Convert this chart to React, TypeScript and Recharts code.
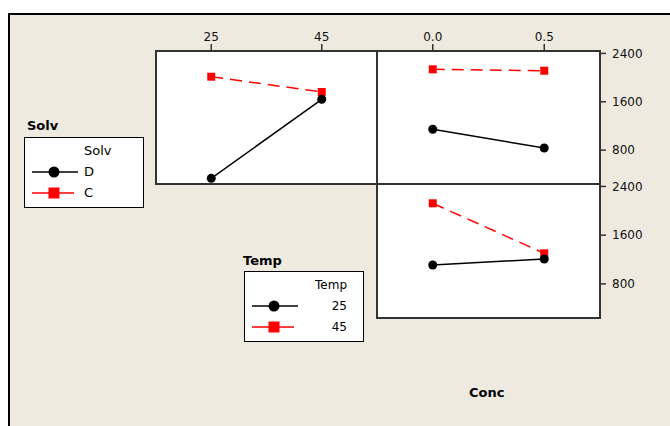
import React from "react";
import { LineChart, Line, XAxis, YAxis } from "recharts";

// factor levels
const TEMP_LEVELS = [25, 45];
const CONC_LEVELS = [0.0, 0.5];

// Solv lines over Temp (top-left panel)
const SOLV_D_BY_TEMP = [334, 1641];
const SOLV_C_BY_TEMP = [2015, 1762];

// Solv lines over Conc (top-right panel)
const SOLV_D_BY_CONC = [1145, 836];
const SOLV_C_BY_CONC = [2137, 2114];

// Temp lines over Conc (bottom-right panel)
const TEMP_25_BY_CONC = [1110, 1208];
const TEMP_45_BY_CONC = [2123, 1302];

const Y_TICKS = [800, 1600, 2400];
const Y_DOMAIN: [number, number] = [240, 2440];
const TEMP_DOMAIN: [number, number] = [15, 55];
const CONC_DOMAIN: [number, number] = [-0.25, 0.75];

const RED = "#ff0000";
const FONT = "'DejaVu Sans', Verdana, sans-serif";

const tempData = TEMP_LEVELS.map((x, i) => ({
  x,
  black: SOLV_D_BY_TEMP[i],
  red: SOLV_C_BY_TEMP[i],
}));
const concSolvData = CONC_LEVELS.map((x, i) => ({
  x,
  black: SOLV_D_BY_CONC[i],
  red: SOLV_C_BY_CONC[i],
}));
const concTempData = CONC_LEVELS.map((x, i) => ({
  x,
  black: TEMP_25_BY_CONC[i],
  red: TEMP_45_BY_CONC[i],
}));

function SquareDot(props: any) {
  const { cx, cy } = props;
  if (cx == null || cy == null) return <g />;
  return <rect x={cx - 4} y={cy - 4} width={8} height={8} fill={RED} />;
}

const tickStyle = { fill: "#111", fontSize: 12, fontFamily: FONT };

function Series() {
  return [
    <Line
      key="red"
      dataKey="red"
      stroke={RED}
      strokeWidth={1.5}
      strokeDasharray="12 7"
      dot={<SquareDot />}
      activeDot={false}
      isAnimationActive={false}
    />,
    <Line
      key="black"
      dataKey="black"
      stroke="#000"
      strokeWidth={1.5}
      dot={{ r: 4.5, fill: "#000", stroke: "#000", strokeWidth: 0 }}
      activeDot={false}
      isAnimationActive={false}
    />,
  ];
}

function Panel({ left, top, width, height }: { left: number; top: number; width: number; height: number }) {
  return (
    <div
      style={{
        position: "absolute",
        left,
        top,
        width,
        height,
        boxSizing: "border-box",
        border: "2px solid #333",
        background: "#fff",
      }}
    />
  );
}

function Text({
  x,
  y,
  size,
  bold,
  align = "left",
  children,
}: {
  x: number;
  y: number;
  size: number;
  bold?: boolean;
  align?: "left" | "right";
  children: React.ReactNode;
}) {
  const style: React.CSSProperties = {
    position: "absolute",
    top: y - size * 0.6,
    lineHeight: `${size * 1.2}px`,
    fontSize: size,
    fontFamily: FONT,
    fontWeight: bold ? "bold" : "normal",
    color: "#000",
    whiteSpace: "nowrap",
  };
  if (align === "left") style.left = x;
  else style.right = x;
  return <div style={style}>{children}</div>;
}

function LegendBox({
  left,
  top,
  header,
  labels,
  size,
  textRight,
}: {
  left: number;
  top: number;
  header: string;
  labels: string[];
  size: number;
  textRight: boolean;
}) {
  const rows = [35, 56];
  return (
    <div
      style={{
        position: "absolute",
        left,
        top,
        width: 120,
        height: 71,
        boxSizing: "border-box",
        border: "1.5px solid #000",
        background: "#fff",
      }}
    >
      <svg width={120} height={71} style={{ position: "absolute", left: -1.5, top: -1.5 }}>
        <line x1={8} x2={54} y1={rows[0]} y2={rows[0]} stroke="#000" strokeWidth={1.5} />
        <circle cx={30} cy={rows[0]} r={5.5} fill="#000" />
        <line x1={8} x2={50} y1={rows[1]} y2={rows[1]} stroke={RED} strokeWidth={1.5} />
        <rect x={24.5} y={rows[1] - 5.5} width={11} height={11} fill={RED} />
      </svg>
      {textRight ? (
        <>
          <Text x={16} y={13} size={size} align="right">{header}</Text>
          <Text x={16} y={rows[0] - 1} size={size} align="right">{labels[0]}</Text>
          <Text x={16} y={rows[1] - 1} size={size} align="right">{labels[1]}</Text>
        </>
      ) : (
        <>
          <Text x={59} y={13} size={size}>{header}</Text>
          <Text x={59} y={rows[0] - 1} size={size}>{labels[0]}</Text>
          <Text x={59} y={rows[1] - 1} size={size}>{labels[1]}</Text>
        </>
      )}
    </div>
  );
}

export default function App() {
  return (
    <div
      style={{
        position: "fixed",
        left: 0,
        top: 0,
        width: 670,
        height: 426,
        background: "#fff",
        overflow: "hidden",
      }}
    >
      {/* outer frame */}
      <div
        style={{
          position: "absolute",
          left: 8,
          top: 13,
          width: 720,
          height: 480,
          boxSizing: "border-box",
          border: "2px solid #000",
          background: "#eeeae0",
        }}
      />

      {/* panel frames */}
      <Panel left={155} top={50} width={223} height={135} />
      <Panel left={376} top={50} width={225} height={135} />
      <Panel left={376} top={183} width={225} height={136} />

      {/* Solv x Temp */}
      <div style={{ position: "absolute", left: 156, top: 20 }}>
        <LineChart width={221} height={164} data={tempData} margin={{ top: 0, right: 0, bottom: 0, left: 0 }}>
          <XAxis
            dataKey="x"
            type="number"
            orientation="top"
            height={31}
            domain={TEMP_DOMAIN}
            ticks={TEMP_LEVELS}
            allowDataOverflow
            axisLine={false}
            tickLine={{ stroke: "#333", strokeWidth: 1.5 }}
            tickSize={7}
            tickMargin={3}
            tick={tickStyle}
          />
          <YAxis type="number" hide domain={Y_DOMAIN} allowDataOverflow />
          {Series()}
        </LineChart>
      </div>

      {/* Solv x Conc */}
      <div style={{ position: "absolute", left: 377, top: 20 }}>
        <LineChart width={273} height={164} data={concSolvData} margin={{ top: 0, right: 0, bottom: 0, left: 0 }}>
          <XAxis
            dataKey="x"
            type="number"
            orientation="top"
            height={31}
            domain={CONC_DOMAIN}
            ticks={CONC_LEVELS}
            tickFormatter={(v: number) => v.toFixed(1)}
            allowDataOverflow
            axisLine={false}
            tickLine={{ stroke: "#333", strokeWidth: 1.5 }}
            tickSize={7}
            tickMargin={3}
            tick={tickStyle}
          />
          <YAxis
            type="number"
            orientation="right"
            width={50}
            domain={Y_DOMAIN}
            ticks={Y_TICKS}
            allowDataOverflow
            axisLine={false}
            tickLine={{ stroke: "#333", strokeWidth: 1.5 }}
            tickSize={6}
            tickMargin={6}
            tick={tickStyle}
          />
          {Series()}
        </LineChart>
      </div>

      {/* Temp x Conc */}
      <div style={{ position: "absolute", left: 377, top: 174 }}>
        <LineChart width={273} height={144} data={concTempData} margin={{ top: 10, right: 0, bottom: 0, left: 0 }}>
          <XAxis dataKey="x" type="number" hide domain={CONC_DOMAIN} allowDataOverflow />
          <YAxis
            type="number"
            orientation="right"
            width={50}
            domain={Y_DOMAIN}
            ticks={Y_TICKS}
            allowDataOverflow
            axisLine={false}
            tickLine={{ stroke: "#333", strokeWidth: 1.5 }}
            tickSize={6}
            tickMargin={6}
            tick={tickStyle}
          />
          {Series()}
        </LineChart>
      </div>

      {/* legends */}
      <Text x={27} y={126} size={13} bold>Solv</Text>
      <LegendBox left={24} top={137} header="Solv" labels={["D", "C"]} size={13} textRight={false} />

      <Text x={243} y={261} size={13} bold>Temp</Text>
      <LegendBox left={244} top={271} header="Temp" labels={["25", "45"]} size={12} textRight />

      <Text x={469} y={393} size={13} bold>Conc</Text>
    </div>
  );
}
